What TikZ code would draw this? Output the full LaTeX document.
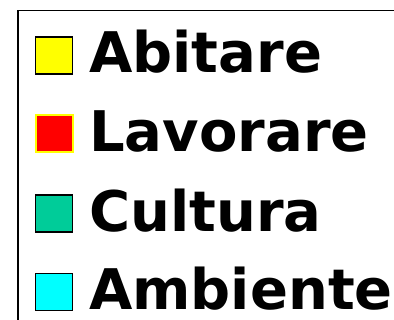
\documentclass[tikz,border=0pt]{standalone}
\usepackage{fontspec}
\setmainfont{DejaVu Sans}
\definecolor{ccyellow}{RGB}{255,255,0}
\definecolor{ccred}{RGB}{255,0,0}
\definecolor{ccgreen}{RGB}{0,204,153}
\definecolor{cccyan}{RGB}{0,255,255}
\tikzset{
  swatch/.style={draw=black, line width=1.2pt, minimum size=37pt, inner sep=0pt, outer sep=0pt},
  label/.style={anchor=base west, inner sep=0pt, font=\fontsize{56}{56}\selectfont\bfseries}
}
\begin{document}
\begin{tikzpicture}[x=1pt,y=-1pt]
\useasboundingbox (0,0) rectangle (394,320);
\coordinate (tr) at (394,10.5);
\coordinate (tl) at (18,10.5);
\coordinate (bl) at (18,320);
\draw[line width=1.5pt] (tr) -- (tl) -- (bl);
\node[swatch, fill=ccyellow] (s1) at (54,55.5) {};
\node[swatch, fill=ccred, draw=ccyellow, line width=2pt] (s2) at (54,134) {};
\node[swatch, fill=ccgreen] (s3) at (54,213.5) {};
\node[swatch, fill=cccyan] (s4) at (54,292) {};
\node[label] (t1) at (89,73) {Abitare};
\node[label] (t2) at (89,152) {Lavorare};
\node[label] (t3) at (89,231.5) {Cultura};
\node[label] (t4) at (89,310) {Ambiente};
\end{tikzpicture}
\end{document}
